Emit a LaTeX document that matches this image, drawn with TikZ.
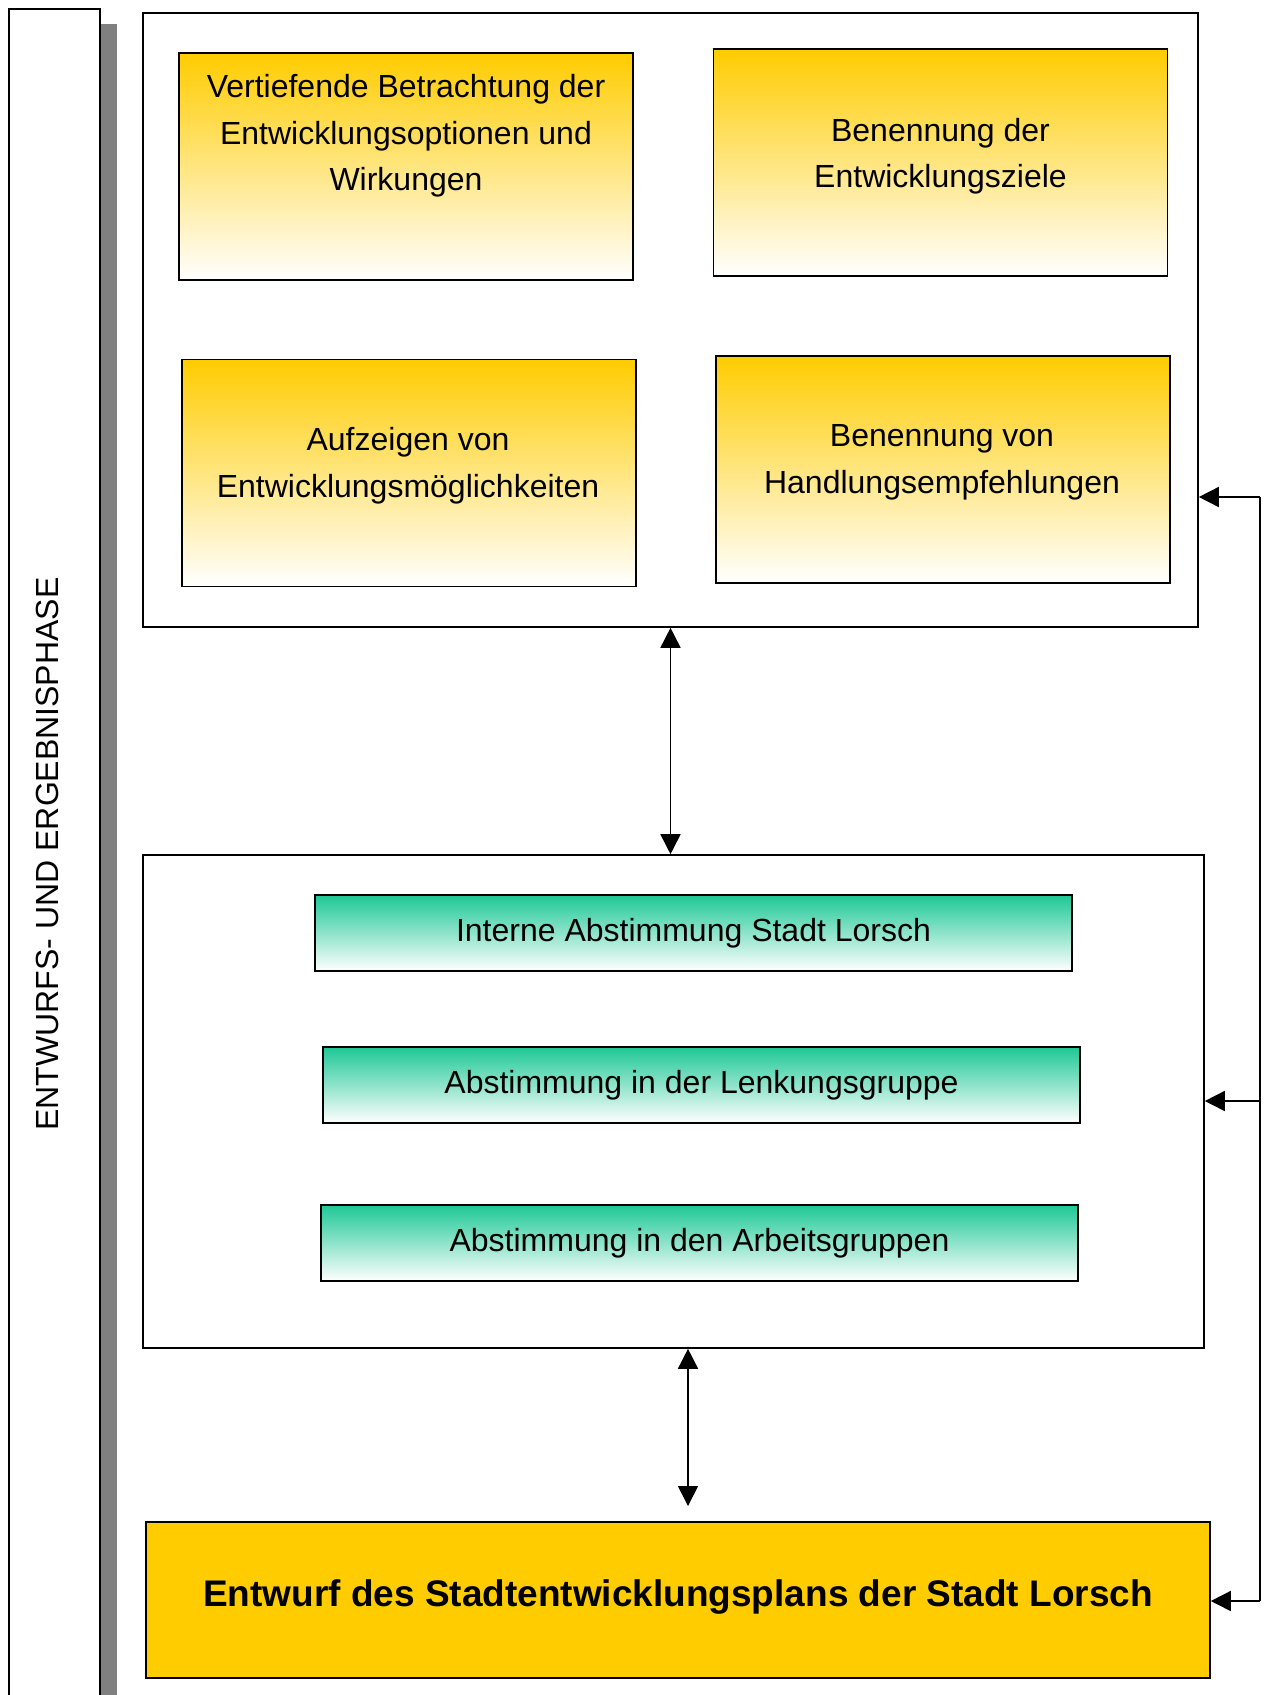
\documentclass[tikz,border=0pt]{standalone}
\usepackage{fontspec}
\setmainfont{Liberation Sans}
\usetikzlibrary{arrows.meta}
\definecolor{gold}{RGB}{255,204,0}
\definecolor{mint}{RGB}{30,200,150}
\definecolor{shadow}{RGB}{128,128,128}

\begin{document}
\begin{tikzpicture}[x=1pt,y=-1pt,
    box/.style={draw,line width=1.6pt,inner sep=0pt},
    tip/.style={-{Triangle[length=20pt,width=20pt]},line width=1.6pt},
    tips/.style={{Triangle[length=20pt,width=20pt]}-{Triangle[length=20pt,width=20pt]},line width=1.6pt}]

        \useasboundingbox (0,0) rectangle (1268,1695);

        % left band
        \fill[shadow] (100,24) rectangle (117,1710);
        \draw[line width=1.6pt] (9,9) rectangle (100,1710);
        \node[rotate=90,font=\fontsize{32}{40}\selectfont] (p) at (47,854) {ENTWURFS- UND ERGEBNISPHASE};

        % frames
        \node[box,minimum width=1055pt,minimum height=614pt] (f1) at (670.5,320) {};
        \node[box,minimum width=1061pt,minimum height=493pt] (f2) at (673.5,1101.5) {};

        \begin{scope}[every node/.style={box,top color=gold,middle color=gold!28,bottom color=white,minimum width=454pt,minimum height=227pt}]
          \node (b1) at (406,166.5) {};
          \node (b2) at (940.5,162.5) {};
          \node (b3) at (409,473) {};
          \node (b4) at (943,469.5) {};
        \end{scope}

        \begin{scope}[every node/.style={align=center,font=\fontsize{32}{46.5}\selectfont}]
          \node (t1) at (406,136) {Vertiefende Betrachtung der\\Entwicklungsoptionen und\\Wirkungen};
          \node (t2) at (940.5,156) {Benennung der\\Entwicklungsziele};
          \node (t3) at (408,465.5) {Aufzeigen von\\Entwicklungsmöglichkeiten};
          \node (t4) at (942,462.5) {Benennung von\\Handlungsempfehlungen};
        \end{scope}

        \begin{scope}[every node/.style={box,top color=mint,middle color=mint!50,bottom color=white,minimum width=757pt,minimum height=76pt,font=\fontsize{32}{40}\selectfont}]
          \node (g1) at (693.5,933) {Interne Abstimmung Stadt Lorsch};
          \node (g2) at (701.5,1085) {Abstimmung in der Lenkungsgruppe};
          \node (g3) at (699.5,1243) {Abstimmung in den Arbeitsgruppen};
        \end{scope}

        \node[box,fill=gold,minimum width=1064pt,minimum height=156pt] (e) at (678,1600) {};
        \node[font=\fontsize{37}{44}\bfseries\selectfont] (et) at (678,1597) {Entwurf des Stadtentwicklungsplans der Stadt Lorsch};

        % connectors
        \coordinate (a) at (688,1506);
        \coordinate (r1) at (1260,497);
        \coordinate (r2) at (1260,1101);
        \coordinate (r3) at (1260,1601);

        \draw[tips] (f1.south) -- (f1.south |- f2.north);
        \draw[tips] (a |- f2.south) -- (a);
        \draw[line width=1.6pt] (r1) -- (r3);
        \draw[tip] (r1) -- (r1 -| f1.east);
        \draw[tip] (r2) -- (r2 -| f2.east);
        \draw[tip] (r3) -- (r3 -| e.east);

      \end{tikzpicture}
\end{document}
